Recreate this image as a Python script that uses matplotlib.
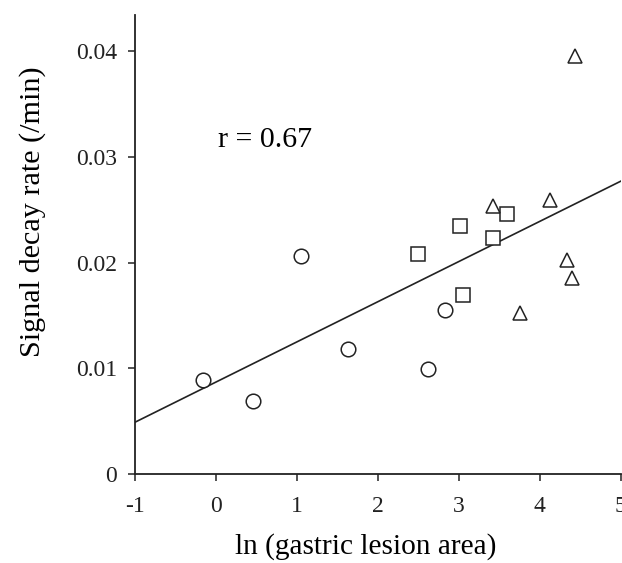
import numpy as np
import matplotlib
matplotlib.use('Agg')
import matplotlib.pyplot as plt

plt.rcParams['font.family'] = ['Liberation Serif', 'DejaVu Serif']

# ln(lesion area) vs decay rate, three groups
circle_x = [-0.16, 0.46, 1.05, 1.63, 2.62, 2.83]
circle_y = [0.0089, 0.0069, 0.0206, 0.0118, 0.0099, 0.0155]
square_x = [2.49, 3.01, 3.05, 3.42, 3.59]
square_y = [0.0208, 0.0235, 0.0169, 0.0223, 0.0246]
triangle_x = [3.42, 3.75, 4.12, 4.33, 4.40, 4.43]
triangle_y = [0.0254, 0.0152, 0.0259, 0.0202, 0.0185, 0.0395]

fit_intercept = 0.0087
fit_slope = 0.0038
r_value = 0.67

x_ticks = [-1, 0, 1, 2, 3, 4, 5]
y_ticks = [0, 0.01, 0.02, 0.03, 0.04]
y_tick_labels = ['0', '0.01', '0.02', '0.03', '0.04']

fig = plt.figure(figsize=(6.22, 5.63), dpi=100)
ax = fig.add_axes([0.217, 0.158, 0.781, 0.815])

xs = np.array([-1, 5])
ax.plot(xs, fit_intercept + fit_slope * xs, color='#222222', lw=1.2, zorder=1)

mk = dict(linestyle='none', markerfacecolor='white', markeredgecolor='#222222',
          markeredgewidth=1.1, zorder=2, clip_on=False)
ax.plot(circle_x, circle_y, marker='o', markersize=10.5, **mk)
ax.plot(square_x, square_y, marker='s', markersize=9.5, **mk)
ax.plot(triangle_x, triangle_y, marker='^', markersize=10.5, **mk)

ax.text(0.02, 0.0316, 'r = %.2f' % r_value, fontsize=21.5, va='center', ha='left')

ax.set_xlim(-1, 5)
ax.set_ylim(0, 0.0434)
ax.set_xticks(x_ticks)
ax.set_xticklabels([str(t) for t in x_ticks])
ax.set_yticks(y_ticks)
ax.set_yticklabels(y_tick_labels)
ax.tick_params(direction='out', length=5, width=1.1, labelsize=17, colors='#222222')
ax.tick_params(axis='x', pad=11)
ax.tick_params(axis='y', pad=8)
for s in ['top', 'right']:
    ax.spines[s].set_visible(False)
for s in ['left', 'bottom']:
    ax.spines[s].set_linewidth(1.3)
    ax.spines[s].set_color('#222222')

ax.set_xlabel('ln (gastric lesion area)', fontsize=21.2)
ax.set_ylabel('Signal decay rate (/min)', fontsize=21.7)
ax.xaxis.set_label_coords(0.475, -0.128)
ax.yaxis.set_label_coords(-0.183, 0.571)

fig.savefig('out.png', dpi=100)
